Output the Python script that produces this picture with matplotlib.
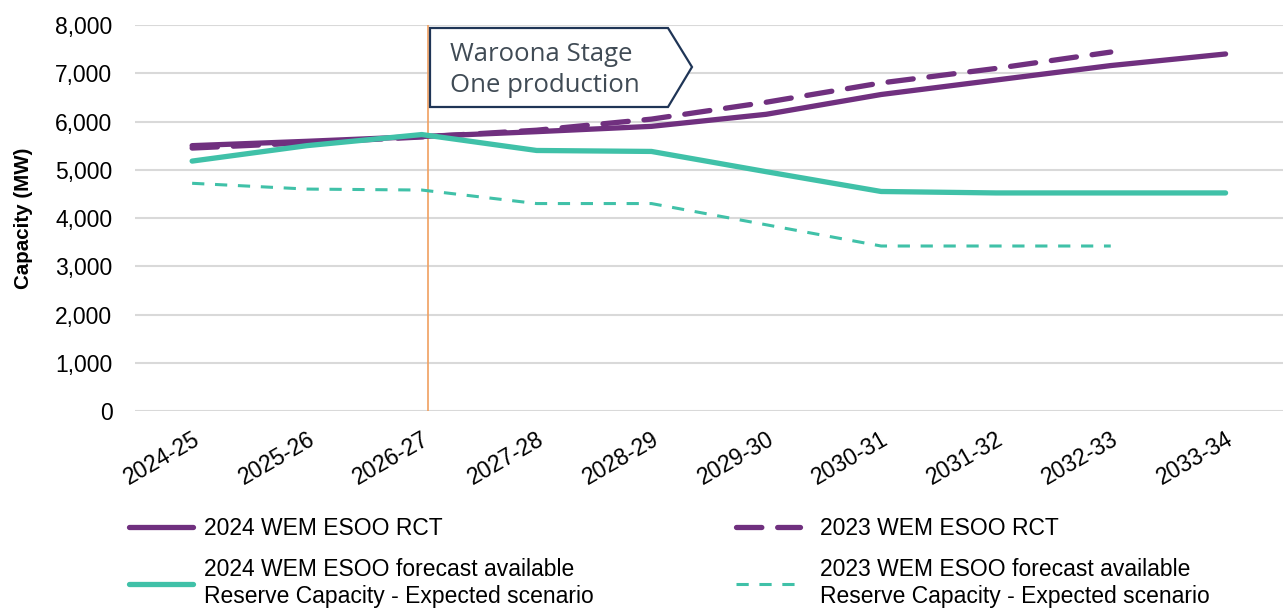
import matplotlib.pyplot as plt
from matplotlib.patches import Polygon

plt.rcParams["font.family"] = ["Liberation Sans", "DejaVu Sans"]

years = ["2024-25", "2025-26", "2026-27", "2027-28", "2028-29",
         "2029-30", "2030-31", "2031-32", "2032-33", "2033-34"]
rct_2024 = [5500, 5590, 5690, 5790, 5900, 6150, 6560, 6860, 7160, 7400]
rct_2023 = [5450, 5560, 5680, 5820, 6050, 6400, 6800, 7100, 7440]
avail_2024 = [5180, 5500, 5730, 5400, 5380, 4960, 4550, 4520, 4520, 4520]
avail_2023 = [4720, 4600, 4580, 4300, 4300, 3860, 3420, 3420, 3420]
event_x = 2.05
event_label = "Waroona Stage\nOne production"

purple = "#70307f"
teal = "#40c1a8"
fs = 16.5

fig = plt.figure(figsize=(12.83, 6.12), dpi=100)
ax = fig.add_axes([0.105, 0.3284, 0.895, 0.6307])

x_all = range(len(years))
h1, = ax.plot(x_all, rct_2024, color=purple, lw=3.8, solid_capstyle="round",
              label="2024 WEM ESOO RCT")
h2, = ax.plot(range(len(rct_2023)), rct_2023, color=purple, lw=3.8,
              dashes=(4.8, 3.0), dash_capstyle="round", label="2023 WEM ESOO RCT")
h3, = ax.plot(x_all, avail_2024, color=teal, lw=3.8, solid_capstyle="round",
              label="2024 WEM ESOO forecast available\nReserve Capacity - Expected scenario")
h4, = ax.plot(range(len(avail_2023)), avail_2023, color=teal, lw=2.2,
              dashes=(4, 3.5), label="2023 WEM ESOO forecast available\nReserve Capacity - Expected scenario")

ax.axvline(event_x, color="#f0a060", lw=1.2, zorder=1)

ax.set_xlim(-0.5, len(years) - 0.5)
ax.set_ylim(0, 8000)
ax.set_yticks(range(0, 8001, 1000))
ax.set_yticklabels([f"{v:,}" for v in range(0, 8001, 1000)])
ax.set_xticks(list(x_all))
ax.set_xticklabels(years, rotation=30, ha="right", rotation_mode="anchor")
ax.tick_params(length=0, labelsize=fs)
ax.tick_params(axis="y", pad=16)
ax.tick_params(axis="x", pad=12)
ax.grid(axis="y", color="#d9d9d9", lw=1.5)
ax.set_axisbelow(True)
for s in ax.spines.values():
    s.set_visible(False)
ax.set_ylabel("Capacity (MW)", fontsize=14.8, fontweight="bold", labelpad=16)

# annotation callout box (pentagon arrow shape)
W, H = 1283, 612
pts = [(430, 28), (668, 28), (692, 67), (668, 107), (430, 107)]
poly = Polygon([(px / W, 1 - py / H) for px, py in pts], closed=True,
               transform=fig.transFigure, facecolor="white",
               edgecolor="#1f3556", lw=1.6, zorder=5)
fig.patches.append(poly)
fig.text(450 / W, 1 - 70 / H, event_label, fontsize=18.5, color="#404b55",
         va="center", ha="left", linespacing=1.3, zorder=6,
         family=["Open Sans", "DejaVu Sans"])

leg_kw = dict(loc="upper left", frameon=False, fontsize=fs, handlelength=2.8,
              labelspacing=0.8)
leg1 = fig.legend([h1, h3], [h1.get_label(), h3.get_label()],
                  bbox_to_anchor=(108 / W, 1 - 496 / H), handletextpad=0.5, **leg_kw)
leg2 = fig.legend([h2, h4], [h2.get_label(), h4.get_label()],
                  bbox_to_anchor=(715 / W, 1 - 496 / H), handletextpad=0.9, **leg_kw)

fig.savefig("out.png", dpi=100)
